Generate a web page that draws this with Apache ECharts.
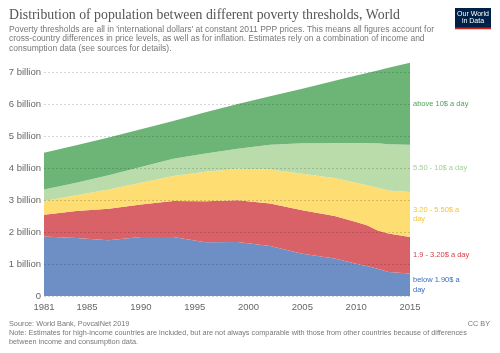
<!DOCTYPE html>
<html>
<head>
<meta charset="utf-8">
<script src="https://cdn.jsdelivr.net/npm/echarts@6/dist/echarts.min.js"></script>
<style>
  html, body { margin: 0; padding: 0; background: #fff; }
  #main { width: 500px; height: 353px; }
</style>
</head>
<body>
<div id="main"></div>
<script>
// survey years (PovcalNet)
const years = [1981, 1984, 1987, 1990, 1993, 1996, 1999, 2002, 2005, 2008, 2010, 2011, 2012, 2013, 2015];
// people in each band, billions
const below190 = [1.86, 1.81, 1.74, 1.84, 1.84, 1.68, 1.69, 1.56, 1.32, 1.17, 1.01, 0.94, 0.85, 0.75, 0.70];
const from190to320 = [0.68, 0.85, 0.99, 1.02, 1.13, 1.28, 1.30, 1.33, 1.36, 1.33, 1.30, 1.27, 1.20, 1.20, 1.14];
const from320to550 = [0.43, 0.49, 0.60, 0.68, 0.78, 0.92, 0.99, 1.06, 1.14, 1.19, 1.23, 1.25, 1.33, 1.35, 1.41];
const from550to10 = [0.36, 0.39, 0.44, 0.49, 0.54, 0.57, 0.62, 0.78, 0.95, 1.09, 1.24, 1.32, 1.39, 1.44, 1.48];
const above10 = [1.15, 1.17, 1.18, 1.18, 1.18, 1.29, 1.40, 1.51, 1.71, 1.95, 2.11, 2.19, 2.28, 2.39, 2.56];

const xTicks = [1981, 1985, 1990, 1995, 2000, 2005, 2010, 2015];

const bands = [
  { name: "below 1.90$ a\nday", data: below190, area: "#6d8fc5", text: "#3a6cc0" },
  { name: "1.9 - 3.20$ a day", data: from190to320, area: "#d96268", text: "#d33f45" },
  { name: "3.20 - 5.50$ a\nday", data: from320to550, area: "#fedd72", text: "#f2c43e" },
  { name: "5.50 - 10$ a day", data: from550to10, area: "#badcaa", text: "#a3d095" },
  { name: "above 10$ a day", data: above10, area: "#6db477", text: "#4fa25c" }
];

const sans = "Liberation Sans, Arial, sans-serif";
const chart = echarts.init(document.getElementById("main"), null, { renderer: "canvas" });

const option = {
  animation: false,
  grid: { left: 44, right: 90, top: 72, bottom: 57 },
  xAxis: {
    type: "value",
    min: 1981,
    max: 2015,
    axisLine: { show: false },
    axisTick: { show: false },
    splitLine: { show: false },
    axisLabel: {
      customValues: xTicks,
      color: "#666",
      fontSize: 9.5,
      fontFamily: sans,
      margin: 6,
      formatter: v => String(v)
    }
  },
  yAxis: {
    type: "value",
    min: 0,
    max: 7,
    interval: 1,
    z: 10,
    axisLine: { show: false },
    axisTick: { show: false },
    splitLine: { lineStyle: { color: "rgba(0,0,0,0.16)", type: [2, 2], width: 1 } },
    axisLabel: {
      color: "#666",
      fontSize: 9.5,
      fontFamily: sans,
      margin: 3,
      formatter: v => v === 0 ? "0" : v + " billion"
    }
  },
  // value first so the stack is done on it, year mapped to x
  series: bands.map(b => ({
    name: b.name,
    type: "line",
    stack: "total",
    clip: false,
    symbol: "none",
    dimensions: ["value", "year"],
    encode: { x: "year", y: "value" },
    lineStyle: { width: 0 },
    areaStyle: { color: b.area, opacity: 1 },
    data: years.map((y, i) => [b.data[i], y])
  }))
};
chart.setOption(option);

// labels at the right, centred on each band at the last year
const last = years.length - 1;
let base = 0;
const labelGraphics = bands.map(b => {
  const mid = base + b.data[last] / 2;
  base += b.data[last];
  const p = chart.convertToPixel({ gridIndex: 0 }, [years[last], mid]);
  return {
    type: "text",
    style: {
      x: p[0] + 3, y: p[1], text: b.name, fill: b.text,
      font: "7.5px " + sans, textVerticalAlign: "middle", lineHeight: 9.5
    }
  };
});

chart.setOption({
  graphic: [
    { type: "text", style: { x: 9, y: 15, text: "Distribution of population between different poverty thresholds, World",
      fill: "#555", font: "13.8px Liberation Serif, Times New Roman, serif", textVerticalAlign: "middle" } },
    { type: "text", style: { x: 9, y: 29.5, text: "Poverty thresholds are all in 'international dollars' at constant 2011 PPP prices. This means all figures account for",
      fill: "#777", font: "8.5px " + sans, textVerticalAlign: "middle" } },
    { type: "text", style: { x: 9, y: 39, text: "cross-country differences in price levels, as well as for inflation. Estimates rely on a combination of income and",
      fill: "#777", font: "8.5px " + sans, textVerticalAlign: "middle" } },
    { type: "text", style: { x: 9, y: 48.5, text: "consumption data (see sources for details).",
      fill: "#777", font: "8.5px " + sans, textVerticalAlign: "middle" } },
    // logo
    { type: "rect", shape: { x: 455, y: 8, width: 36, height: 21 }, style: { fill: "#002147" } },
    { type: "rect", shape: { x: 455, y: 27.5, width: 36, height: 1.8 }, style: { fill: "#ce261e" } },
    { type: "text", style: { x: 473, y: 14, text: "Our World", fill: "#fff", font: "7px " + sans, textAlign: "center", textVerticalAlign: "middle" } },
    { type: "text", style: { x: 473, y: 21.5, text: "in Data", fill: "#fff", font: "7px " + sans, textAlign: "center", textVerticalAlign: "middle" } },
    // footer
    { type: "text", style: { x: 9, y: 323.5, text: "Source: World Bank, PovcalNet 2019", fill: "#777", font: "7.3px " + sans, textVerticalAlign: "middle" } },
    { type: "text", style: { x: 490, y: 323.5, text: "CC BY", fill: "#777", font: "7.3px " + sans, textAlign: "right", textVerticalAlign: "middle" } },
    { type: "text", style: { x: 9, y: 332.5, text: "Note: Estimates for high-income countries are included, but are not always comparable with those from other countries because of differences",
      fill: "#777", font: "7.3px " + sans, textVerticalAlign: "middle" } },
    { type: "text", style: { x: 9, y: 341.5, text: "between income and consumption data.", fill: "#777", font: "7.3px " + sans, textVerticalAlign: "middle" } }
  ].concat(labelGraphics)
});
</script>
</body>
</html>
